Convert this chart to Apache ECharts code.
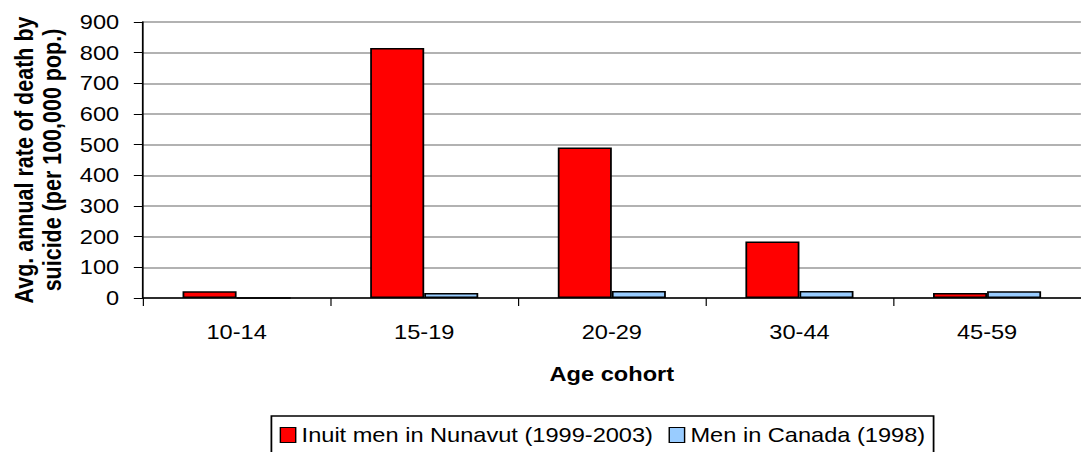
<!DOCTYPE html>
<html><head><meta charset="utf-8">
<script src="https://cdn.jsdelivr.net/npm/echarts@6/dist/echarts.min.js"></script>
<style>
html,body{margin:0;padding:0;background:#fff;overflow:hidden;width:1081px;height:452px}
/* the reference chart is horizontally stretched by ~1.18 */
#c{width:916px;height:452px;transform:scaleX(1.18);transform-origin:0 0}
</style>
</head><body><div id="c"></div>
<script>
const categories = ['10-14', '15-19', '20-29', '30-44', '45-59'];
const inuitMen = [22, 815, 491, 184, 16];
const canadaMen = [0, 16, 23, 23, 22];
const seriesNames = ['Inuit men in Nunavut (1999-2003)', 'Men in Canada (1998)'];
const yTicks = [0, 900, 100];

const F = 'Liberation Sans, Arial, sans-serif';
const chart = echarts.init(document.getElementById('c'), null, { renderer: 'svg' });
chart.setOption({
  animation: false,
  backgroundColor: '#fff',
  grid: { left: 121, top: 22, width: 802, height: 276, containLabel: false },
  legend: {
    left: 230, top: 416,
    data: seriesNames,
    icon: 'rect', itemWidth: 13, itemHeight: 15, itemGap: 13,
    padding: [9, 7, 9, 7],
    borderColor: '#000', borderWidth: 1.5,
    itemStyle: { borderColor: '#000', borderWidth: 1.2 },
    textStyle: { fontFamily: F, fontSize: 20, color: '#000' }
  },
  xAxis: {
    type: 'category', data: categories,
    name: 'Age cohort', nameLocation: 'middle', nameGap: 66,
    nameTextStyle: { fontFamily: F, fontSize: 20, fontWeight: 'bold', color: '#000' },
    axisLine: { lineStyle: { color: '#000', width: 1.5 } },
    axisTick: { show: true, length: 8, lineStyle: { color: '#000' } },
    axisLabel: { fontFamily: F, fontSize: 20, color: '#000', margin: 24 }
  },
  yAxis: {
    type: 'value', min: yTicks[0], max: yTicks[1], interval: yTicks[2],
    name: 'Avg. annual rate of death by\nsuicide (per 100,000 pop.)',
    nameLocation: 'middle', nameGap: 65, nameRotate: 90,
    nameTextStyle: { fontFamily: F, fontSize: 21.5, fontWeight: 'bold', color: '#000', lineHeight: 23.5 },
    axisLine: { show: true, lineStyle: { color: '#000', width: 1.5 } },
    axisTick: { show: true, length: 7.6, lineStyle: { color: '#000' } },
    axisLabel: { fontFamily: F, fontSize: 20, color: '#000', margin: 20 },
    splitLine: { lineStyle: { color: '#999', width: 1.5 } }
  },
  series: [
    { name: seriesNames[0], type: 'bar', data: inuitMen, barWidth: 45.8, barGap: '0%',
      itemStyle: { color: '#ff0000', borderColor: '#000', borderWidth: 1.5 } },
    { name: seriesNames[1], type: 'bar', data: canadaMen, barWidth: 45.8,
      itemStyle: { color: '#99ccff', borderColor: '#000', borderWidth: 1.5 } }
  ]
});
</script></body></html>
